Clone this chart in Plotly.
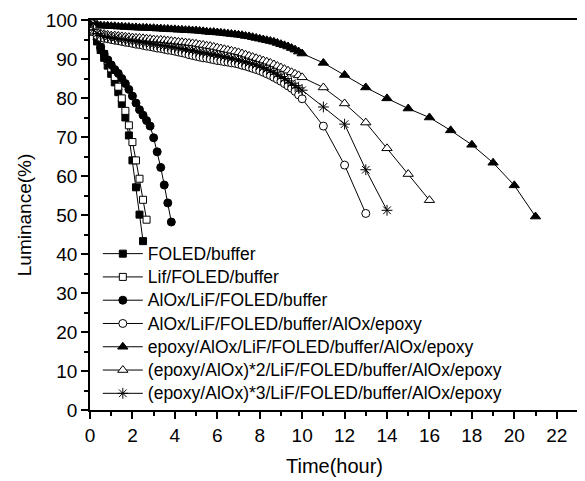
import plotly.graph_objects as go

# ---- data (time in hours, luminance in %) ----
t_sq_filled = [0, 1/6, 2/6, 3/6, 4/6, 5/6, 1, 7/6, 8/6, 9/6, 10/6, 11/6, 2, 13/6, 14/6, 15/6]
lum_sq_filled = [100, 97, 94.5, 92.3, 90.3, 88.3, 86.2, 84, 81.5, 78.5, 75, 70.4, 64, 57.1, 50.1, 43.3]

t_sq_open = [0, 1/6, 2/6, 3/6, 4/6, 5/6, 1, 7/6, 8/6, 9/6, 10/6, 11/6, 2, 13/6, 14/6, 15/6, 16/6]
lum_sq_open = [100, 97.3, 95, 93, 91.3, 89.5, 87.6, 85.4, 82.9, 79.9, 76.7, 73, 68.7, 64, 59.3, 53.9, 48.8]

t_circ_filled = [k / 6 for k in range(24)]
lum_circ_filled = [100, 97.5, 95, 93, 91.3, 89.8, 88.5, 87.3, 86.3, 85, 83.7, 82.2,
                   80.5, 78.7, 77.0, 75.6, 74.2, 72.8, 69.8, 66.2, 62.2, 57.7, 53.1, 48.2]

t_dense = [k / 6 for k in range(61)]

lum_circ_open = [100, 97.0, 96.0, 95.5, 95.3, 95.2, 95.0, 94.8, 94.7, 94.5, 94.3, 94.2,
                 94.0, 93.8, 93.7, 93.5, 93.3, 93.2, 93.0, 92.8, 92.7, 92.5, 92.3, 92.2,
                 92.0, 91.8, 91.6, 91.4, 91.1, 90.9, 90.7, 90.5, 90.3, 90.2, 90.0, 89.8,
                 89.6, 89.5, 89.3, 89.2, 89.0, 88.9, 88.7, 88.4, 88.2, 87.9, 87.6, 87.3,
                 87.0, 86.6, 86.2, 85.8, 85.3, 84.8, 84.3, 83.7, 83.1, 82.5, 81.7, 80.8,
                 79.8, 72.8, 62.8, 50.4]
t_circ_open = t_dense + [11, 12, 13]

lum_tri_filled = [100, 99.2, 98.8, 98.6, 98.5, 98.5, 98.4, 98.4, 98.3, 98.3, 98.2, 98.2,
                  98.1, 98.1, 98.0, 98.0, 98.0, 97.9, 97.9, 97.8, 97.8, 97.7, 97.7, 97.6,
                  97.6, 97.5, 97.5, 97.4, 97.4, 97.3, 97.3, 97.2, 97.1, 97.0, 96.9, 96.9,
                  96.8, 96.7, 96.6, 96.5, 96.4, 96.3, 96.2, 96.1, 95.9, 95.8, 95.6, 95.4,
                  95.2, 95.0, 94.8, 94.6, 94.4, 94.1, 93.8, 93.5, 93.2, 92.8, 92.4, 91.9,
                  91.4, 89.0, 85.9, 82.7, 79.9, 77.3, 75.0, 71.7, 68.0, 63.4, 57.6, 49.6]
t_tri_filled = t_dense + [11, 12, 13, 14, 15, 16, 17, 18, 19, 20, 21]

lum_tri_open = [100, 98.0, 97.0, 96.5, 96.4, 96.2, 96.0, 96.0, 95.9, 95.8, 95.7, 95.6,
                95.5, 95.4, 95.4, 95.3, 95.2, 95.1, 95.0, 94.9, 94.9, 94.8, 94.7, 94.6,
                94.5, 94.4, 94.3, 94.2, 94.1, 94.0, 93.9, 93.7, 93.6, 93.4, 93.3, 93.1,
                92.9, 92.7, 92.5, 92.3, 92.1, 91.9, 91.7, 91.4, 91.1, 90.8, 90.5, 90.2,
                89.9, 89.6, 89.3, 89.0, 88.6, 88.2, 87.8, 87.4, 87.0, 86.6, 86.2, 85.8,
                85.3, 82.7, 78.6, 73.7, 67.1, 60.5, 53.8]
t_tri_open = t_dense + [11, 12, 13, 14, 15, 16]

lum_star = [100, 97.5, 96.5, 96.0, 95.8, 95.6, 95.4, 95.3, 95.1, 95.0, 94.9, 94.7,
            94.6, 94.5, 94.3, 94.2, 94.1, 93.9, 93.8, 93.7, 93.5, 93.4, 93.3, 93.1,
            93.0, 92.8, 92.7, 92.5, 92.3, 92.2, 92.0, 91.8, 91.7, 91.5, 91.3, 91.2,
            91.0, 90.8, 90.6, 90.4, 90.2, 90.0, 89.8, 89.5, 89.3, 89.0, 88.8, 88.5,
            88.2, 87.8, 87.4, 87.0, 86.6, 86.1, 85.5, 85.0, 84.4, 83.8, 83.2, 82.6,
            82.0, 77.7, 73.3, 61.6, 51.2]
t_star = t_dense + [11, 12, 13, 14]

names = [
    "FOLED/buffer",
    "Lif/FOLED/buffer",
    "AlOx/LiF/FOLED/buffer",
    "AlOx/LiF/FOLED/buffer/AlOx/epoxy",
    "epoxy/AlOx/LiF/FOLED/buffer/AlOx/epoxy",
    "(epoxy/AlOx)*2/LiF/FOLED/buffer/AlOx/epoxy",
    "(epoxy/AlOx)*3/LiF/FOLED/buffer/AlOx/epoxy",
]

x_ticks = list(range(0, 23, 2))
y_ticks = list(range(0, 101, 10))

series = [
    (t_sq_filled, lum_sq_filled, "square", "black", 7),
    (t_sq_open, lum_sq_open, "square", "white", 7),
    (t_circ_filled, lum_circ_filled, "circle", "black", 8),
    (t_circ_open, lum_circ_open, "circle", "white", 8),
    (t_tri_filled, lum_tri_filled, "triangle-up", "black", 9),
    (t_tri_open, lum_tri_open, "triangle-up", "white", 9),
    (t_star, lum_star, "asterisk-open", "black", 9),
]

FONT = "Arial, Liberation Sans, sans-serif"

fig = go.Figure()
for (xs, ys, sym, fill, size), name in zip(series, names):
    fig.add_trace(go.Scatter(
        x=xs, y=ys, mode="lines+markers",
        name='<span style="font-size:17.5px">' + name + "</span>",
        line=dict(color="black", width=1),
        marker=dict(symbol=sym, size=size, color=fill,
                    line=dict(color="black", width=1)),
    ))

axis_common = dict(
    showgrid=False, zeroline=False, showline=True, linecolor="black", linewidth=1.5,
    mirror=True, ticks="outside", tickcolor="black", tickwidth=1.5,
    tickfont=dict(family=FONT, size=19, color="black"),
)

fig.update_xaxes(
    range=[0, 23.05], tickvals=x_ticks, ticklen=7,
    minor=dict(dtick=1, ticks="outside", ticklen=4, tickcolor="black", tickwidth=1.5),
    title=dict(text="Time(hour)", font=dict(family=FONT, size=20, color="black"), standoff=14),
    **axis_common,
)
fig.update_yaxes(
    range=[0, 100], tickvals=y_ticks, ticklen=7,
    minor=dict(dtick=5, ticks="outside", ticklen=4, tickcolor="black", tickwidth=1.5),
    title=dict(text="Luminance(%)", font=dict(family=FONT, size=19, color="black"), standoff=9),
    **axis_common,
)

# page body has an 8px default margin, so the figure is sized to fit the window
fig.update_layout(
    width=577, height=473,
    margin=dict(l=82, r=6, t=12, b=71, autoexpand=False),
    paper_bgcolor="white", plot_bgcolor="white",
    showlegend=True,
    legend=dict(
        x=0.016, y=0.4436, xanchor="left", yanchor="top",
        bgcolor="rgba(0,0,0,0)", borderwidth=0,
        font=dict(family=FONT, size=15.6, color="black"),
        tracegroupgap=0, itemsizing="trace", itemwidth=40,
    ),
)

fig.write_html("out.html")
